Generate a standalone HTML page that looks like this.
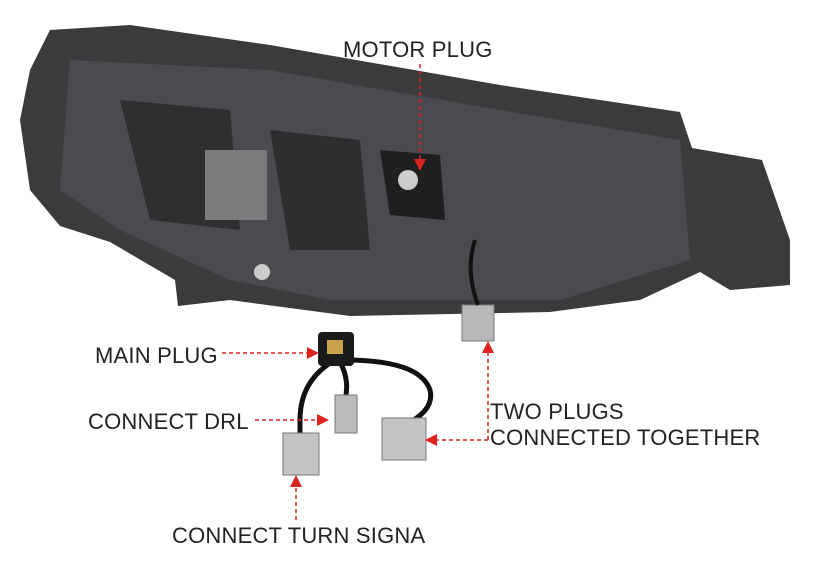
<!DOCTYPE html>
<html><head><meta charset="utf-8"><style>
html,body{margin:0;padding:0;background:#fff;}
body{width:821px;height:584px;position:relative;overflow:hidden;font-family:"Liberation Sans",sans-serif;}
.t{position:absolute;font-size:22px;color:#222;white-space:nowrap;letter-spacing:0.2px;}
</style></head><body>
<svg width="821" height="584" style="position:absolute;left:0;top:0">
<defs><marker id="a" markerWidth="8" markerHeight="8" refX="6" refY="4" orient="auto"><path d="M0,0 L8,4 L0,8 z" fill="#d22"/></marker></defs>
<polygon points="50,30 130,25 270,45 500,85 680,112 692,148 762,160 790,240 790,285 730,290 700,272 640,300 550,312 350,316 230,300 178,306 175,280 110,242 60,226 30,190 20,120 30,70" fill="#3a3b3d"/>
<polygon points="70,60 270,70 500,110 680,140 690,260 560,300 330,300 230,280 120,230 60,190" fill="#4a4b4e"/>
<polygon points="120,100 230,110 240,230 150,220" fill="#2e2f31"/>
<polygon points="270,130 360,140 370,250 290,250" fill="#2d2e30"/>
<rect x="205" y="150" width="62" height="70" fill="#7a7b7d"/>
<polygon points="380,150 440,155 445,220 390,215" fill="#1e1f20"/>
<circle cx="408" cy="180" r="10" fill="#ccc"/>
<circle cx="262" cy="272" r="8" fill="#ccc"/>
<rect x="462" y="305" width="32" height="36" fill="#b8b8b8" stroke="#777"/>
<path d="M475 240 Q465 270 478 305" stroke="#111" stroke-width="4" fill="none"/>
<path d="M335 360 Q300 380 300 420 L300 435 M340 362 Q350 380 345 400 M345 360 Q420 360 430 390 Q435 410 405 425" stroke="#111" stroke-width="5" fill="none"/>
<rect x="318" y="332" width="36" height="34" rx="4" fill="#1a1a1a"/>
<rect x="327" y="340" width="16" height="14" fill="#c9a24a"/>
<rect x="335" y="395" width="22" height="38" fill="#bbb" stroke="#777"/>
<rect x="382" y="418" width="44" height="42" fill="#c4c4c4" stroke="#777"/>
<rect x="283" y="433" width="36" height="42" fill="#c4c4c4" stroke="#777"/>
<g stroke="#d22" stroke-width="1.5" stroke-dasharray="4,3" fill="none">
<line x1="420" y1="64" x2="420" y2="168" marker-end="url(#a)"/>
<line x1="222" y1="353" x2="316" y2="353" marker-end="url(#a)"/>
<line x1="255" y1="420" x2="326" y2="420" marker-end="url(#a)"/>
<line x1="296" y1="520" x2="296" y2="478" marker-end="url(#a)"/>
<line x1="488" y1="440" x2="488" y2="344" marker-end="url(#a)"/>
<line x1="488" y1="440" x2="428" y2="440" marker-end="url(#a)"/>
</g>
</svg>
<div class="t" style="left:343px;top:37px">MOTOR PLUG</div>
<div class="t" style="left:95px;top:343px">MAIN PLUG</div>
<div class="t" style="left:88px;top:409px">CONNECT DRL</div>
<div class="t" style="left:490px;top:399px">TWO PLUGS</div>
<div class="t" style="left:490px;top:425px">CONNECTED TOGETHER</div>
<div class="t" style="left:172px;top:523px">CONNECT TURN SIGNA</div>
</body></html>
